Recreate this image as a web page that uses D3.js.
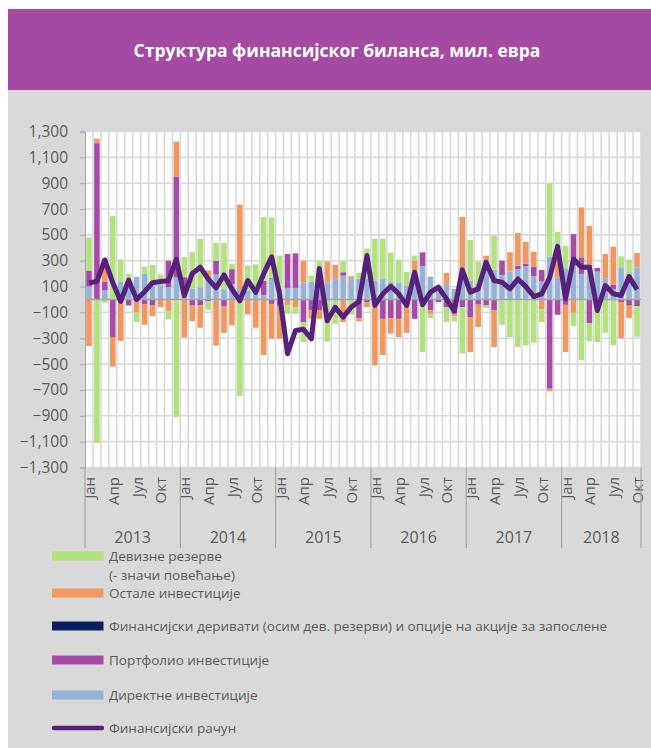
<!DOCTYPE html>
<html><head><meta charset="utf-8">
<script src="https://cdnjs.cloudflare.com/ajax/libs/d3/7.8.5/d3.min.js"></script>
<style>body{margin:0;background:#fff}svg{display:block}text{font-family:"Open Sans",sans-serif}</style>
</head><body><svg id="c" width="651" height="748"></svg>
<script>
const years = ["2013","2014","2015","2016","2017","2018"];
const monthsPerYear = [12,12,12,12,12,10];
const monthTickLabels = ["Јан","Апр","Јул","Окт"];
const yTicks = d3.range(-1300, 1301, 200);
const title = "Структура финансијског биланса, мил. евра";

// Девизне резерве (- значи повећање)
const reserves = [255,-1100,-25,645,170,103,-75,55,157,85,-65,-910,
  155,283,375,-65,137,357,40,-746,193,226,492,470,
  257,-64,-51,-154,46,100,-325,-188,85,-117,46,235,
  323,310,229,178,105,40,-366,-33,0,-116,-40,-360,
  314,173,-21,262,-195,-290,-367,-355,-334,-98,570,159,
  174,-102,-470,-142,-329,-257,-355,85,105,-237];
// Остале инвестиције
const other = [-360,35,180,-229,-320,0,-100,-157,-82,-59,-90,270,
  -293,-122,-174,75,-356,-203,-201,655,-116,-219,-430,-270,
  -253,-46,-59,166,-64,-64,160,110,-175,20,-25,-40,
  -510,-280,-120,-140,-218,90,-40,-26,0,85,-20,399,
  -270,-173,51,-282,5,147,252,170,116,-77,-20,193,
  -365,-98,386,304,0,188,296,-278,-103,111];
// Финансијски деривати
const derivatives = [0,0,0,0,0,0,0,0,0,0,0,0,
  0,0,0,0,0,0,0,0,0,0,0,4,
  0,0,0,0,0,0,0,0,0,0,0,0,
  0,0,0,0,0,0,0,0,0,0,0,4,
  0,0,0,0,0,0,0,0,5,0,0,0,
  0,-4,0,5,0,0,0,0,-8,-5];
// Портфолио инвестиције
const portfolio = [125,1210,70,-290,0,-46,0,-38,-46,0,205,780,
  78,-46,-45,-15,107,-55,115,0,0,0,110,-34,
  -50,262,267,-175,-85,-85,0,0,26,0,-145,-20,
  0,-150,-144,-150,-40,-150,108,-85,-20,-59,-110,-59,
  -136,-40,-46,-85,110,0,26,20,69,90,-690,-118,
  -41,187,128,-182,28,0,31,-20,-33,-46];
// Директне инвестиције
const direct = [100,-10,70,0,140,95,175,200,110,110,95,172,
  95,83,95,150,193,80,120,80,70,45,35,160,
  82,90,90,134,139,200,134,160,185,160,160,160,
  147,160,134,130,108,210,257,177,110,121,82,236,
  146,120,288,231,190,218,236,257,180,139,330,172,
  242,319,198,262,216,164,82,249,203,249];
// Финансијски рачун
const financialAccount = [130,140,306,130,-15,150,0,60,130,140,145,310,
  30,200,250,160,90,190,80,-10,147,55,200,330,
  40,-420,-240,-230,-304,240,-165,-60,-136,-60,-15,340,
  -46,44,103,44,-46,211,-40,57,95,5,-90,229,
  57,82,288,146,134,82,159,100,23,44,170,411,
  5,314,249,249,-85,108,44,31,177,77];

const seriesNames = {
  reserves: ["Девизне резерве", "(- значи повећање)"],
  other: ["Остале инвестиције"],
  derivatives: ["Финансијски деривати (осим дев. резерви) и опције на акције за запослене"],
  portfolio: ["Портфолио инвестиције"],
  direct: ["Директне инвестиције"],
  line: ["Финансијски рачун"]
};
const colors = {reserves:"#b1e27b", other:"#f1985e", derivatives:"#0a1f5c", portfolio:"#a64ca7", direct:"#95b3d7", line:"#56217a"};

const categories = years.flatMap((y,i)=>d3.range(monthsPerYear[i]).map(m=>({year:y, m})));
const rows = categories.map((c,i)=>({i, direct:direct[i], portfolio:portfolio[i], derivatives:derivatives[i], other:other[i], reserves:reserves[i]}));
const keys = ["direct","portfolio","derivatives","other","reserves"];
const stacked = d3.stack().keys(keys).offset(d3.stackOffsetDiverging)(rows);

const svg = d3.select("#c");
svg.append("rect").attr("x",8).attr("y",90).attr("width",643).attr("height",658).attr("fill","#d9d9d9");
svg.append("rect").attr("x",8).attr("y",9).attr("width",643).attr("height",81).attr("fill","#a44aa3");
const t = svg.append("text").attr("x",337).attr("y",50).attr("text-anchor","middle").attr("dominant-baseline","central")
  .attr("fill","#fff").attr("font-weight","bold").attr("font-size",17).text(title);
{ const w = t.node().getComputedTextLength(); t.attr("font-size", 17*407/w); }

const X0=85, X1=641, Y0=131.5, Y1=467.5;
const x = d3.scaleBand().domain(d3.range(categories.length)).range([X0,X1]).paddingInner(0.3).paddingOuter(0.15);
const y = d3.scaleLinear().domain([-1300,1300]).range([Y1,Y0]);
const step = x.step();

svg.append("rect").attr("x",X0).attr("y",Y0).attr("width",X1-X0).attr("height",Y1-Y0).attr("fill","#fff");
const g = svg.append("g");
// horizontal grid
g.selectAll(".hg").data(yTicks).join("line").attr("x1",X0).attr("x2",X1).attr("y1",d=>y(d)).attr("y2",d=>y(d))
  .attr("stroke","#d9d9d9").attr("stroke-width",1.6);
// vertical grid at category boundaries
g.selectAll(".vg").data(d3.range(1,categories.length+1)).join("line")
  .attr("x1",d=>X0+d*(X1-X0)/categories.length).attr("x2",d=>X0+d*(X1-X0)/categories.length)
  .attr("y1",Y0).attr("y2",Y1).attr("stroke","#d9d9d9").attr("stroke-width",1.6);

// bars
stacked.forEach(s=>{
  g.append("g").selectAll("rect").data(s).join("rect")
    .attr("x",(d,i)=>x(i)).attr("width",x.bandwidth())
    .attr("y",d=>y(Math.max(d[0],d[1]))).attr("height",d=>Math.abs(y(d[0])-y(d[1])))
    .attr("fill",colors[s.key]);
});
// zero line
g.append("line").attr("x1",X0).attr("x2",X1).attr("y1",y(0)).attr("y2",y(0)).attr("stroke","#a6a6a6").attr("stroke-width",1.5);

// line
g.append("path").datum(financialAccount)
  .attr("d", d3.line().x((d,i)=>x(i)+x.bandwidth()/2).y(d=>y(d)))
  .attr("fill","none").attr("stroke",colors.line).attr("stroke-width",5).attr("stroke-linejoin","round");

// y axis
const yAxis = d3.axisLeft(y).tickValues(yTicks).tickSize(5).tickFormat(d3.format(","));
const ya = svg.append("g").attr("transform",`translate(${X0},0)`).call(yAxis);
ya.select(".domain").attr("stroke","#a6a6a6");
ya.selectAll(".tick line").attr("stroke","#a6a6a6");
ya.selectAll(".tick text").attr("fill","#595959").attr("font-size",15.5).attr("font-family","Open Sans").attr("x",-17);

// x axis: month labels
const mg = svg.append("g");
categories.forEach((c,i)=>{
  if (c.m % 3 === 0) {
    const cx = X0 + (i+0.5)*step;
    mg.append("text").attr("transform",`translate(${cx},477) rotate(-90)`)
      .attr("text-anchor","end").attr("dominant-baseline","central")
      .attr("fill","#595959").attr("font-size",15).text(monthTickLabels[c.m/3]);
  }
});
// year separators and labels
let start = 0;
years.forEach((yr,k)=>{
  const xs = X0 + start*step, xe = X0 + (start+monthsPerYear[k])*step;
  mg.append("line").attr("x1",xs).attr("x2",xs).attr("y1",Y1).attr("y2",548).attr("stroke","#a6a6a6").attr("stroke-width",1.2);
  if (k===years.length-1) mg.append("line").attr("x1",xe).attr("x2",xe).attr("y1",Y1).attr("y2",548).attr("stroke","#a6a6a6").attr("stroke-width",1.2);
  mg.append("text").attr("x",(xs+xe)/2).attr("y",537).attr("text-anchor","middle").attr("dominant-baseline","central")
    .attr("fill","#595959").attr("font-size",16).text(yr);
  start += monthsPerYear[k];
});

// legend
const legendItems = [
  {k:"reserves", y:556}, {k:"other", y:593}, {k:"derivatives", y:626},
  {k:"portfolio", y:660}, {k:"direct", y:695}, {k:"line", y:728}
];
const lg = svg.append("g");
legendItems.forEach(it=>{
  if (it.k==="line") {
    lg.append("line").attr("x1",54).attr("x2",102).attr("y1",it.y).attr("y2",it.y)
      .attr("stroke",colors.line).attr("stroke-width",4.5).attr("stroke-linecap","round");
  } else {
    lg.append("rect").attr("x",52).attr("y",it.y-4.5).attr("width",51.5).attr("height",9).attr("fill",colors[it.k]);
  }
  seriesNames[it.k].forEach((s,j)=>{
    lg.append("text").attr("x",109).attr("y",it.y + j*18.5).attr("dominant-baseline","central")
      .attr("fill","#595959").attr("font-size",13.5).text(s);
  });
});
</script></body></html>
